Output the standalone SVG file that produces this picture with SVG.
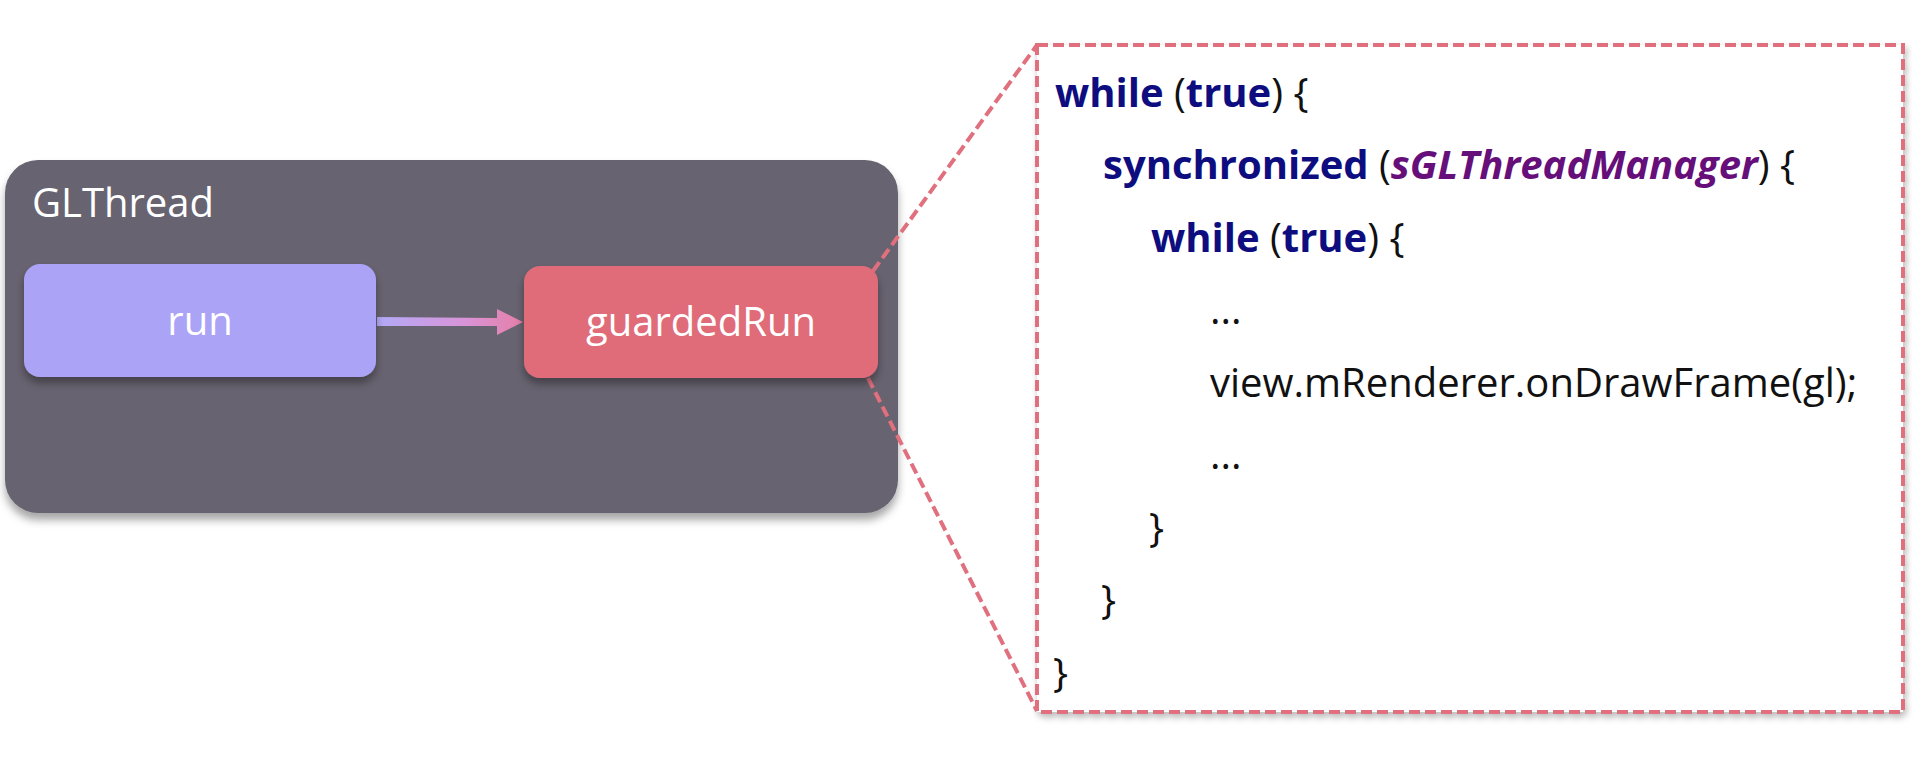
<svg xmlns="http://www.w3.org/2000/svg" width="1916" height="760" viewBox="0 0 1916 760">
<defs>
  <filter id="sh" x="-10%" y="-10%" width="120%" height="130%">
    <feDropShadow dx="0" dy="6" stdDeviation="4" flood-color="#000" flood-opacity="0.35"/>
  </filter>
  <filter id="shOuter" x="-5%" y="-5%" width="110%" height="115%">
    <feDropShadow dx="0" dy="7" stdDeviation="4" flood-color="#000" flood-opacity="0.35"/>
  </filter>
  <filter id="shCode" x="-3%" y="-3%" width="106%" height="106%">
    <feDropShadow dx="2" dy="4" stdDeviation="3" flood-color="#000" flood-opacity="0.25"/>
  </filter>
  <linearGradient id="arrowGrad" x1="377" y1="0" x2="523" y2="0" gradientUnits="userSpaceOnUse">
    <stop offset="0" stop-color="#b2aaf8"/>
    <stop offset="0.6" stop-color="#d994d8"/>
    <stop offset="1" stop-color="#e57fa8"/>
  </linearGradient>
</defs>
<style>
  .lbl { font-family: "Open Sans", "Noto Sans", sans-serif; font-size: 40px; fill: #ffffff; }
  .code { font-family: "Open Sans", "Noto Sans", sans-serif; font-size: 40px; fill: #111111; }
  .kw { font-weight: bold; fill: #0d0d80; }
  .fld { font-weight: bold; font-style: italic; fill: #660e7a; }
  .dash { fill: none; stroke: #e0707e; stroke-width: 4; stroke-dasharray: 11 5; }
</style>
<rect x="0" y="0" width="1916" height="760" fill="#ffffff"/>

<g id="glthread">
  <rect x="5" y="160" width="893" height="353" rx="33" ry="33" fill="#67636f" filter="url(#shOuter)"/>
  <text class="lbl" x="32" y="217">GLThread</text>
</g>

<g id="code-box">
  <rect class="dash" x="1037" y="45" width="866" height="667" fill="#ffffff" style="fill:#ffffff" filter="url(#shCode)"/>
  <text class="code" x="1055" y="107"><tspan class="kw">while</tspan> (<tspan class="kw">true</tspan>) {</text>
  <text class="code" x="1103" y="179"><tspan class="kw">synchronized</tspan> (<tspan class="fld">sGLThreadManager</tspan>) {</text>
  <text class="code" x="1151" y="252"><tspan class="kw">while</tspan> (<tspan class="kw">true</tspan>) {</text>
  <text class="code" x="1210" y="324">...</text>
  <text class="code" x="1210" y="397">view.mRenderer.onDrawFrame(gl);</text>
  <text class="code" x="1210" y="469">...</text>
  <text class="code" x="1149" y="542">}</text>
  <text class="code" x="1101" y="614">}</text>
  <text class="code" x="1053" y="687">}</text>
</g>

<g id="connectors">
  <line class="dash" x1="873" y1="271" x2="1037" y2="45"/>
  <line class="dash" x1="868" y1="378" x2="1037" y2="711"/>
  <path d="M377 317 L497 318 L497 309 L523 322 L497 335 L497 326 L377 326 Z" fill="url(#arrowGrad)"/>
</g>

<g id="run">
  <rect x="24" y="264" width="352" height="113" rx="16" ry="16" fill="#aba3f6" filter="url(#sh)"/>
  <text class="lbl" x="200" y="335" text-anchor="middle">run</text>
</g>

<g id="guardedRun">
  <rect x="524" y="266" width="354" height="112" rx="16" ry="16" fill="#df6c78" filter="url(#sh)"/>
  <text class="lbl" x="701" y="336" text-anchor="middle">guardedRun</text>
</g>
</svg>
